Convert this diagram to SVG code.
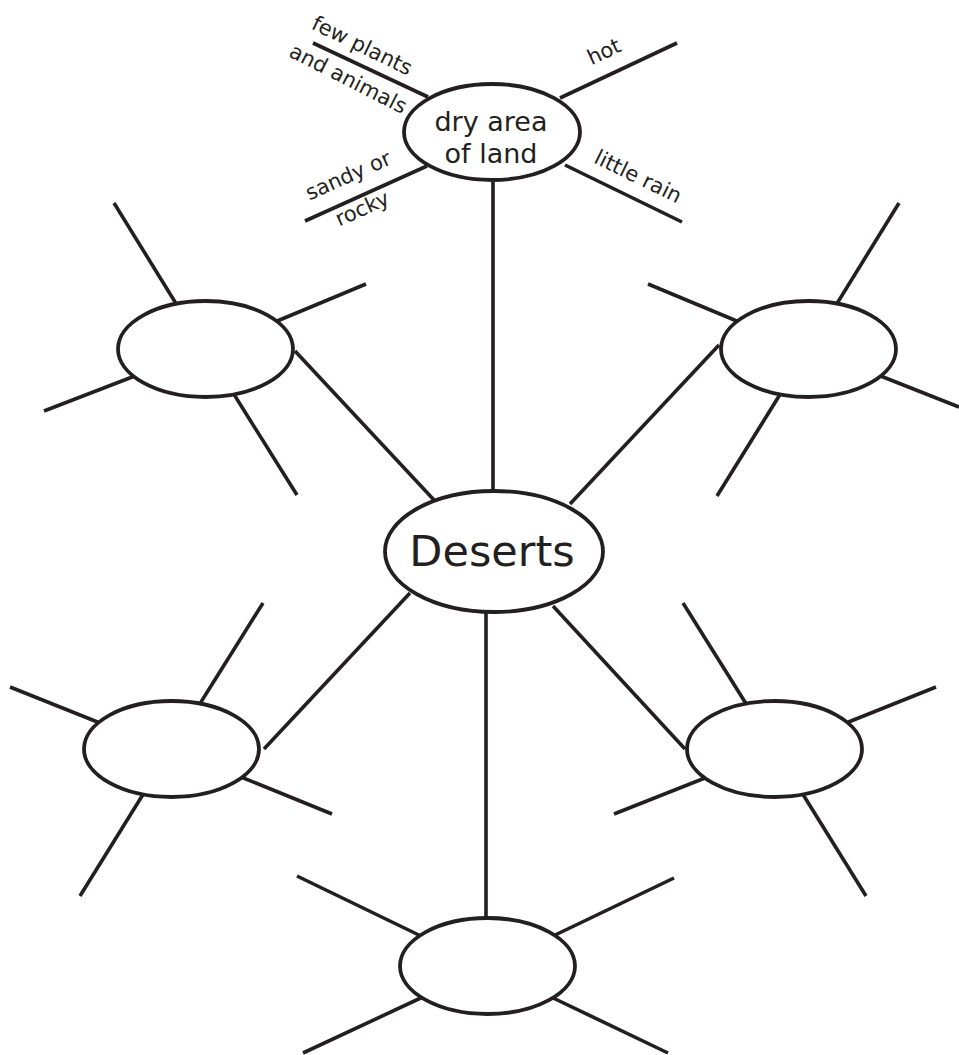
<svg xmlns="http://www.w3.org/2000/svg" width="959" height="1055" viewBox="0 0 959 1055">
<style>
.ln{stroke:#231f20;stroke-width:3.6;fill:none;stroke-linecap:butt}
.el{stroke:#231f20;stroke-width:3.8;fill:#fff}
.t{font-family:"DejaVu Sans",sans-serif;fill:#231f20;text-anchor:middle}
.s{font-size:21px}
.m{font-size:27px}
.b{font-size:43px}
</style>
<rect width="959" height="1055" fill="#fff"/>
<g id="connectors">
<line class="ln" x1="493" y1="182" x2="493" y2="492"/>
<line class="ln" x1="295" y1="351" x2="434" y2="500"/>
<line class="ln" x1="719" y1="345" x2="570" y2="504"/>
<line class="ln" x1="264" y1="749" x2="410" y2="593"/>
<line class="ln" x1="685" y1="749" x2="553" y2="606"/>
<line class="ln" x1="486" y1="613" x2="486" y2="918"/>
</g>
<g id="node-top">
<line class="ln" x1="313" y1="43" x2="428" y2="97"/>
<line class="ln" x1="560" y1="98" x2="677" y2="43"/>
<line class="ln" x1="427" y1="166" x2="305" y2="221"/>
<line class="ln" x1="565" y1="165" x2="682" y2="222"/>
<ellipse class="el" cx="492" cy="132" rx="88" ry="48"/>
<text class="t m" x="491" y="131">dry area</text>
<text class="t m" x="491" y="163">of land</text>
<text class="t s" transform="translate(359,52) rotate(26)">few plants</text>
<text class="t s" transform="translate(345,85) rotate(27)">and animals</text>
<text class="t s" transform="translate(607,58) rotate(-25)">hot</text>
<text class="t s" transform="translate(635,183) rotate(26)">little rain</text>
<text class="t s" transform="translate(351,182) rotate(-24)">sandy or</text>
<text class="t s" transform="translate(365,215) rotate(-24)">rocky</text>
</g>
<g id="node-deserts">
<ellipse class="el" cx="494" cy="551.5" rx="109" ry="60.5"/>
<text class="t b" x="492" y="566">Deserts</text>
</g>
<g id="node-upper-left">
<line class="ln" x1="114" y1="203" x2="180" y2="310"/>
<line class="ln" x1="366" y1="284" x2="270" y2="324"/>
<line class="ln" x1="44" y1="411" x2="140" y2="374"/>
<line class="ln" x1="297" y1="495" x2="230" y2="388"/>
<ellipse class="el" cx="205.5" cy="349" rx="87.5" ry="48"/>
</g>
<g id="node-upper-right">
<line class="ln" x1="899" y1="203" x2="833" y2="310"/>
<line class="ln" x1="648" y1="284" x2="744" y2="324"/>
<line class="ln" x1="959" y1="407" x2="873" y2="373"/>
<line class="ln" x1="717" y1="496" x2="784" y2="388"/>
<ellipse class="el" cx="808.5" cy="349" rx="87.5" ry="48"/>
</g>
<g id="node-lower-left">
<line class="ln" x1="263" y1="603" x2="196" y2="710"/>
<line class="ln" x1="10" y1="687" x2="105" y2="725"/>
<line class="ln" x1="332" y1="814" x2="236" y2="775"/>
<line class="ln" x1="80" y1="896" x2="147" y2="788"/>
<ellipse class="el" cx="171.5" cy="749" rx="87.5" ry="48"/>
</g>
<g id="node-lower-right">
<line class="ln" x1="683" y1="603" x2="750" y2="710"/>
<line class="ln" x1="936" y1="687" x2="841" y2="725"/>
<line class="ln" x1="614" y1="814" x2="710" y2="776"/>
<line class="ln" x1="866" y1="896" x2="799" y2="788"/>
<ellipse class="el" cx="774.5" cy="749" rx="87.5" ry="48"/>
</g>
<g id="node-bottom">
<line class="ln" x1="297" y1="876" x2="425" y2="938"/>
<line class="ln" x1="674" y1="878" x2="551" y2="937"/>
<line class="ln" x1="303" y1="1053" x2="425" y2="996"/>
<line class="ln" x1="668" y1="1053" x2="549" y2="996"/>
<ellipse class="el" cx="487.5" cy="966" rx="87.5" ry="48"/>
</g>
</svg>
